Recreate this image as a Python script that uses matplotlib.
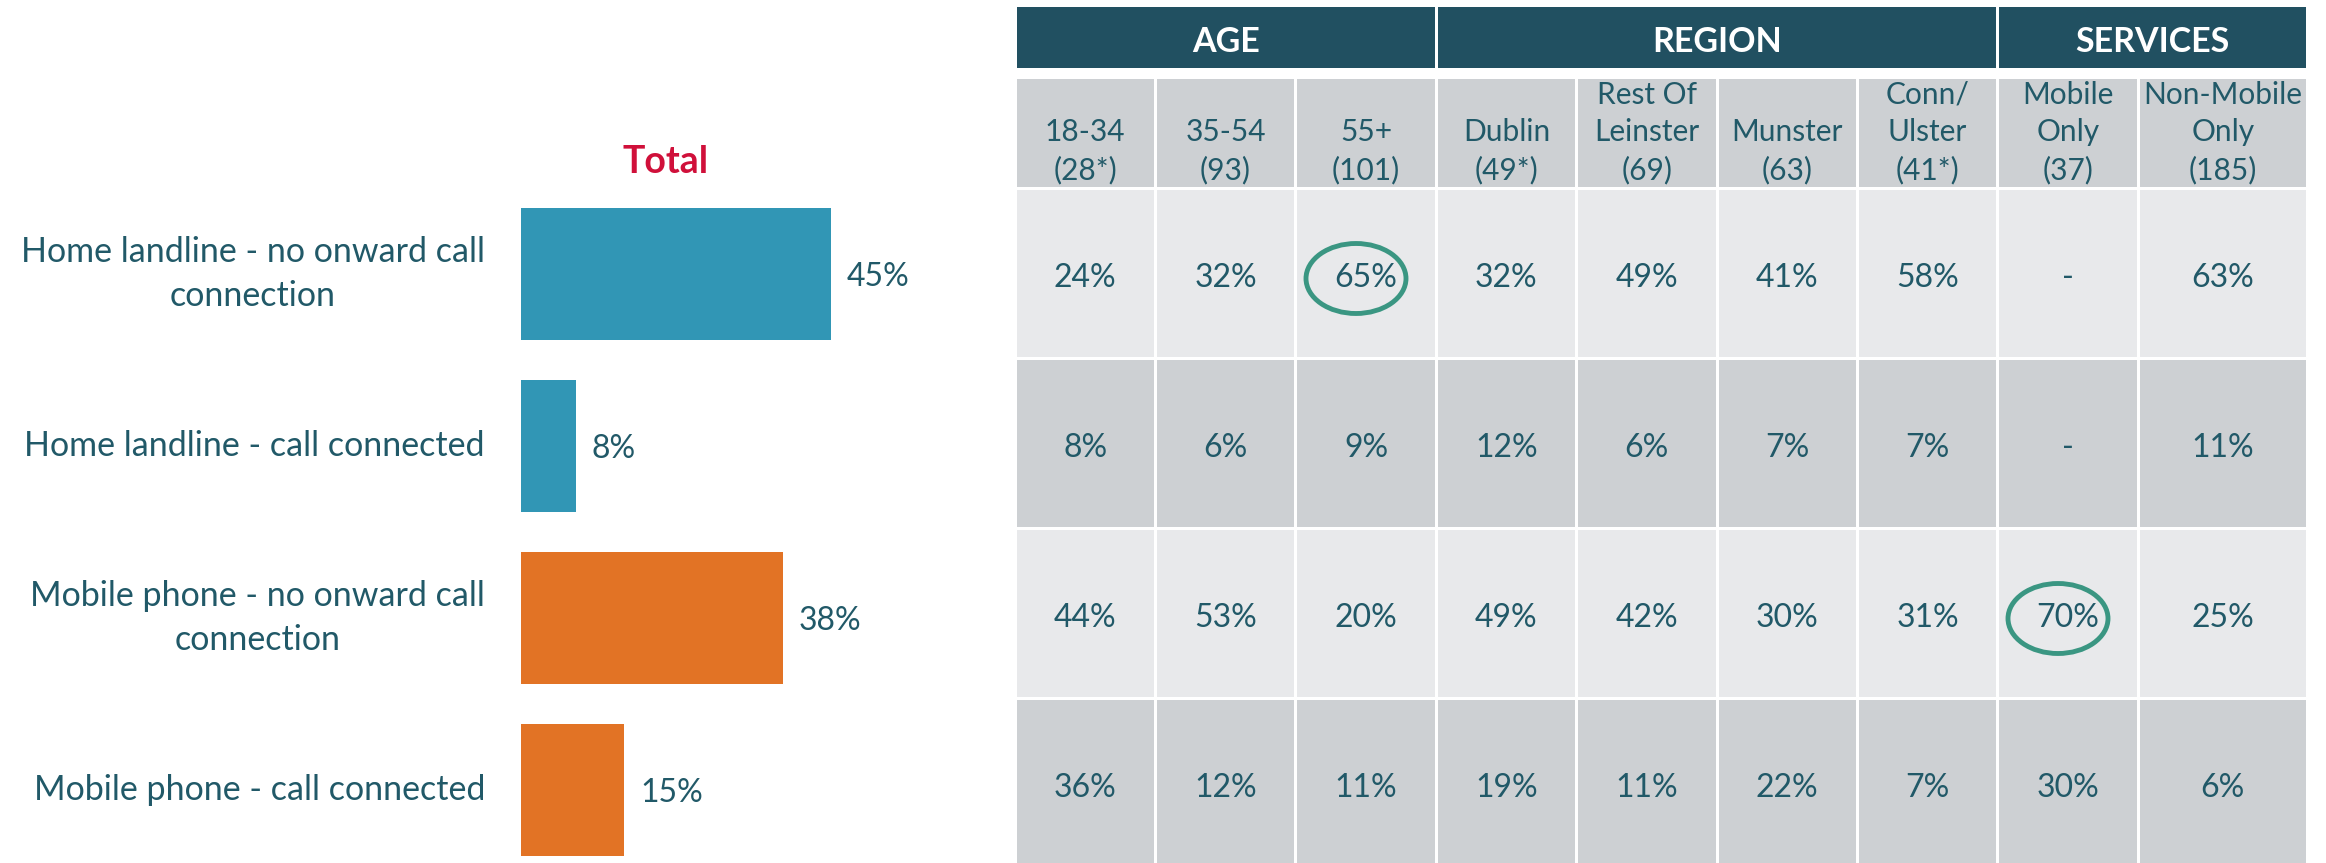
import matplotlib.pyplot as plt
from matplotlib.patches import Rectangle, Ellipse

plt.rcParams['font.family'] = ['Lato', 'DejaVu Sans']

# ---- left chart: total ----
channels = ['Home landline - no onward call\nconnection',
            'Home landline - call connected',
            'Mobile phone - no onward call\nconnection',
            'Mobile phone - call connected']
total = [45, 8, 38, 15]
bar_colors = ['#3196B5', '#3196B5', '#E27325', '#E27325']

# ---- right table ----
groups = ['AGE', 'REGION', 'SERVICES']
group_sizes = [3, 4, 2]
columns = ['18-34\n(28*)', '35-54\n(93)', '55+\n(101)', 'Dublin\n(49*)',
           'Rest Of\nLeinster\n(69)', 'Munster\n(63)', 'Conn/\nUlster\n(41*)',
           'Mobile\nOnly\n(37)', 'Non-Mobile\nOnly\n(185)']
landline_no_onward = [24, 32, 65, 32, 49, 41, 58, None, 63]
landline_connected = [8, 6, 9, 12, 6, 7, 7, None, 11]
mobile_no_onward = [44, 53, 20, 49, 42, 30, 31, 70, 25]
mobile_connected = [36, 12, 11, 19, 11, 22, 7, 30, 6]
rows = [landline_no_onward, landline_connected, mobile_no_onward, mobile_connected]
circled = [(0, 2), (2, 7)]  # (row, col)

txt = '#215968'
head = '#215061'
light = '#E8E9EB'
dark = '#CDD0D3'
ring = '#3A9682'

W, H = 2326, 863
fig = plt.figure(figsize=(W / 100, H / 100), dpi=100)

# bars, axis scaled so 1% ~ 6.9px
ax = fig.add_axes([521 / W, 0, 479 / W, (H - 188) / H])
ypos = list(range(len(total)))
ax.barh(ypos, total, height=0.767, color=bar_colors)
ax.set_xlim(0, 479 / 6.89)
ax.set_ylim(3 + (H - 790) / 172, -0.5)
ax.axis('off')
for i, (lab, v) in enumerate(zip(channels, total)):
    ax.text(-36 / 6.89, i, lab, ha='right', va='center', fontsize=24.5,
            color=txt, linespacing=1.45, multialignment='center', clip_on=False)
    ax.text(v + 2.3, i + 0.02, f'{v}%', va='center', ha='left', fontsize=23, color=txt)
ax.text(21, -0.5 - 26 / 172, 'Total', ha='center', va='center', fontsize=27,
        fontweight='bold', color='#D0103A', clip_on=False)

# table in pixel-like data units
tx = fig.add_axes([1015 / W, 0, 1292 / W, (H - 7) / H])
tx.set_xlim(0, 1292)
tx.set_ylim(H - 7, 0)
tx.axis('off')

col_w = [140.4] * 8 + [169]
edges = [0]
for w in col_w:
    edges.append(edges[-1] + w)

# group header
start = 0
for g, n in zip(groups, group_sizes):
    x0, x1 = edges[start], edges[start + n]
    tx.add_patch(Rectangle((x0 + 1.5, 0), x1 - x0 - 3, 61, color=head, lw=0))
    tx.text((x0 + x1) / 2, 35, g, ha='center', va='center', fontsize=24.5,
            fontweight='bold', color='white')
    start += n

# column headers
for j, c in enumerate(columns):
    x0, x1 = edges[j], edges[j + 1]
    tx.add_patch(Rectangle((x0 + 1.5, 72), x1 - x0 - 3, 108, color=dark, lw=0))
    tx.text((x0 + x1) / 2, 177, c, ha='center', va='bottom', fontsize=21.5,
            color=txt, linespacing=1.4)

# data rows
pitch, rh, top = 170, 167, 183
for i, r in enumerate(rows):
    y0 = top + i * pitch
    fc = light if i % 2 == 0 else dark
    for j, v in enumerate(r):
        x0, x1 = edges[j], edges[j + 1]
        tx.add_patch(Rectangle((x0 + 1.5, y0), x1 - x0 - 3, rh, color=fc, lw=0))
        s = '-' if v is None else f'{v}%'
        tx.text((x0 + x1) / 2, y0 + rh / 2 + 4, s, ha='center', va='center',
                fontsize=23, color=txt)
        if (i, j) in circled:
            tx.add_patch(Ellipse(((x0 + x1) / 2 - 10, y0 + rh / 2 + 5), 100, 70,
                                 fill=False, edgecolor=ring, lw=3.5))

fig.savefig('out.png', dpi=100)
